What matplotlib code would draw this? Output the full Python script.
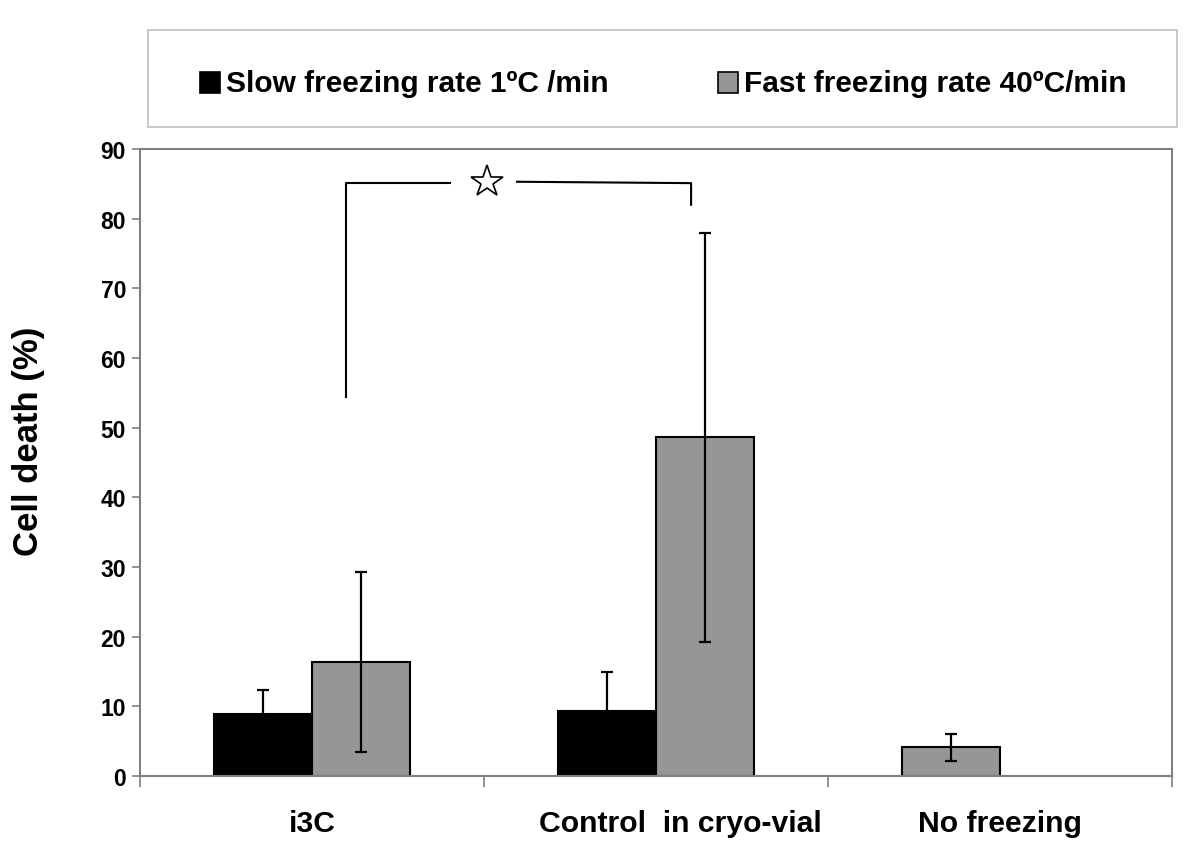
import matplotlib
matplotlib.use("Agg")
import matplotlib.pyplot as plt
from matplotlib.patches import Rectangle
import numpy as np

plt.rcParams['font.family'] = ['Liberation Sans', 'DejaVu Sans']
plt.rcParams['font.weight'] = 'bold'

# data
groups = ['i3C', 'Control  in cryo-vial', 'No freezing']
slow = [8.9, 9.3]
slow_err = [3.4, 5.6]
fast = [16.4, 48.6]
fast_err = [12.9, 29.3]
nofreeze = [4.1]
nofreeze_err = [2.0]
series_names = ['Slow freezing rate 1ºC /min', 'Fast freezing rate 40ºC/min']

black = '#000000'
grey = '#969696'
axcol = '#808080'

w = 0.285
x = np.arange(len(groups))

W, H = 1200, 853
fig = plt.figure(figsize=(12, 8.53), dpi=100)
ax = fig.add_axes([140/W, 76/H, 1032/W, 627/H])

ekw = dict(ecolor='black', elinewidth=1.6, capsize=4, capthick=1.6)
ax.bar(x[:2] - w/2, slow, w, yerr=slow_err, color=black, edgecolor='black',
       linewidth=1.5, error_kw=ekw, zorder=2)
ax.bar(x[:2] + w/2, fast, w, yerr=fast_err, color=grey, edgecolor='black',
       linewidth=1.5, error_kw=ekw, zorder=2)
# no-freezing bar sits in the left slot but is grey
ax.bar(x[2:] - w/2, nofreeze, w, yerr=nofreeze_err, color=grey, edgecolor='black',
       linewidth=1.5, error_kw=ekw, zorder=2)

# significance bracket
lk = dict(color='black', lw=1.5, clip_on=False)
ax.plot([0.099, 0.099, 0.401], [54.4, 85.1, 85.1], **lk)
ax.plot([0.596, 1.102, 1.102], [85.3, 85.1, 82.0], **lk)
ax.plot([0.509], [85.2], marker='*', ms=24, mfc='white', mec='black', mew=1.2,
        clip_on=False)

ax.set_xlim(-0.5, 2.5)
ax.set_ylim(0, 90)
ax.set_yticks(np.arange(0, 91, 10))
ax.tick_params(axis='y', direction='out', length=6, width=1.2, color=axcol,
               labelsize=16.5, pad=4)

ax.set_xticks([-0.5, 0.5, 1.5, 2.5])
ax.set_xticklabels([])
ax.tick_params(axis='x', which='major', direction='out', length=8, width=1.2, color=axcol)
ax.set_xticks([0, 1.07, 2], minor=True)
ax.set_xticklabels(groups, minor=True, fontsize=21.7, fontweight='bold')
ax.tick_params(axis='x', which='minor', length=0, pad=24)

for s in ax.spines.values():
    s.set_color(axcol)
    s.set_linewidth(1.5)

ax.set_ylabel('Cell death (%)', fontsize=25, fontweight='bold')
ax.yaxis.set_label_coords(-0.092, 0.536)

# legend box drawn by hand in figure pixels
def fx(px):
    return px / W

def fy(py):
    return 1 - py / H

fig.patches.append(Rectangle((fx(148), fy(128)), fx(1177) - fx(148), fy(31) - fy(128),
                             transform=fig.transFigure, facecolor='white',
                             edgecolor='#c0c0c0', lw=1.2))
for (sx, tx), col, name in zip([(200, 226), (718, 744)], [black, grey], series_names):
    fig.patches.append(Rectangle((fx(sx), fy(94)), 20/W, 21/H, transform=fig.transFigure,
                                 facecolor=col, edgecolor='black', lw=1.2))
    fig.text(fx(tx), fy(84), name, fontsize=21.5, fontweight='bold', ha='left', va='center')

fig.savefig('out.png', dpi=100)
